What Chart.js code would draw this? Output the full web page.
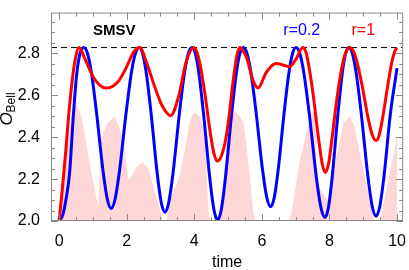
<!DOCTYPE html>
<html>
<head>
<meta charset="utf-8">
<script src="https://cdn.jsdelivr.net/npm/chart.js@4.4.1/dist/chart.umd.min.js"></script>
<style>
  html, body { margin: 0; padding: 0; background: #fff; }
</style>
</head>
<body>
<canvas id="chart" width="409" height="270"></canvas>
<script>
// axis ranges and ticks
var xMin = -0.24, xMax = 10.18;
var yMin = 2.0, yMax = 2.995;
var xMajor = [0, 2, 4, 6, 8, 10];
var yMajor = [2.0, 2.2, 2.4, 2.6, 2.8];
var bound = 2.828; // 2*sqrt(2)

// r = 0.2 (blue)
var blueT = [0, 0.11, 0.2, 0.31, 0.42, 0.52, 0.62, 0.73,
  0.835, 0.949, 1.103, 1.297, 1.427, 1.54,
  1.656, 1.789, 1.988, 2.146, 2.262, 2.37,
  2.469, 2.575, 2.72, 2.902, 3.024, 3.13,
  3.242, 3.37, 3.562, 3.714, 3.826, 3.93,
  4.029, 4.135, 4.28, 4.462, 4.584, 4.69,
  4.796, 4.918, 5.10, 5.245, 5.351, 5.45,
  5.555, 5.669, 5.823, 6.017, 6.147, 6.26,
  6.365, 6.485, 6.665, 6.808, 6.913, 7.01,
  7.122, 7.242, 7.406, 7.612, 7.75, 7.87,
  7.968, 8.08, 8.248, 8.381, 8.479, 8.57,
  8.675, 8.789, 8.943, 9.137, 9.267, 9.38,
  9.489, 9.614, 9.801, 10];
var blueV = [2.0, 2.03, 2.1, 2.23, 2.5, 2.70, 2.80, 2.828,
  2.802, 2.715, 2.524, 2.242, 2.104, 2.06,
  2.104, 2.242, 2.524, 2.715, 2.802, 2.828,
  2.801, 2.712, 2.517, 2.228, 2.087, 2.042,
  2.087, 2.228, 2.517, 2.712, 2.801, 2.828,
  2.80, 2.707, 2.502, 2.20, 2.052, 2.005,
  2.052, 2.20, 2.502, 2.707, 2.80, 2.828,
  2.802, 2.716, 2.527, 2.248, 2.111, 2.068,
  2.111, 2.248, 2.527, 2.716, 2.802, 2.828,
  2.80, 2.708, 2.507, 2.209, 2.063, 2.017,
  2.063, 2.209, 2.507, 2.708, 2.80, 2.828,
  2.801, 2.709, 2.509, 2.214, 2.069, 2.023,
  2.069, 2.214, 2.509, 2.73];

// r = 1 (red)
var redT = [0, 0.1, 0.2, 0.28, 0.41, 0.5, 0.59,
  0.75, 1.0, 1.19, 1.39, 1.6, 1.78, 1.98, 2.22, 2.4,
  2.57, 2.86, 3.05, 3.3, 3.54, 3.74, 3.98,
  4.07, 4.17, 4.31, 4.48, 4.59, 4.69, 4.8, 4.93, 5.03, 5.15, 5.26, 5.35,
  5.45, 5.55, 5.74, 5.89, 6.13, 6.43, 6.62, 6.82, 7.0, 7.21,
  7.30, 7.39, 7.52, 7.68, 7.79, 7.88, 7.98, 8.08, 8.2, 8.33, 8.45, 8.6,
  8.70, 8.81, 8.96, 9.146, 9.27, 9.38, 9.47, 9.57, 9.73, 9.85, 9.94, 10];
var redV = [2.0, 2.16, 2.34, 2.5, 2.70, 2.79, 2.828,
  2.78, 2.69, 2.65, 2.635, 2.645, 2.673, 2.73, 2.81, 2.828,
  2.764, 2.627, 2.55, 2.503, 2.597, 2.748, 2.828,
  2.81, 2.748, 2.613, 2.414, 2.317, 2.286, 2.31, 2.39, 2.5, 2.67, 2.79, 2.828,
  2.81, 2.78, 2.67, 2.635, 2.71, 2.752, 2.745, 2.737, 2.77, 2.828,
  2.808, 2.74, 2.60, 2.39, 2.27, 2.232, 2.28, 2.40, 2.56, 2.70, 2.79, 2.828,
  2.813, 2.762, 2.652, 2.489, 2.409, 2.384, 2.409, 2.489, 2.652, 2.762, 2.813, 2.826];

// shaded region (pink)
var pinkT = [0.05, 0.2, 0.35, 0.5, 0.66, 0.9, 1.1, 1.16, 1.24, 1.4, 1.63, 1.8, 1.93,
  2.05, 2.1, 2.3, 2.47, 2.65, 2.8, 2.96, 3.07, 3.18, 3.25, 3.54, 3.74, 3.84, 3.98,
  4.15, 4.28, 4.33, 4.37, 4.42, 4.46, 4.78, 4.86, 4.96, 5.05, 5.2, 5.35, 5.45, 5.55,
  5.65, 5.74, 5.8, 6.8, 6.87, 6.97, 7.11, 7.36, 7.5, 7.58, 7.63, 7.95, 8.03, 8.2,
  8.42, 8.6, 8.75, 8.86, 9.06, 9.26, 9.33, 9.5, 9.75, 9.94, 10, 10];
var pinkV = [2.0, 2.3, 2.5, 2.56, 2.5, 2.28, 2.11, 2.07, 2.385, 2.46, 2.5, 2.44, 2.35,
  2.2, 2.2, 2.26, 2.28, 2.25, 2.16, 2.07, 2.0, 2.0, 2.09, 2.2, 2.35, 2.46, 2.52,
  2.5, 2.44, 2.35, 2.2, 2.05, 2.0, 2.0, 2.2, 2.38, 2.5, 2.52, 2.5, 2.47, 2.35,
  2.2, 2.05, 2.0, 2.0, 2.035, 2.13, 2.28, 2.445, 2.53, 2.5, 2.17, 2.1, 2.14, 2.3,
  2.47, 2.5, 2.45, 2.35, 2.2, 2.05, 2.0, 2.0, 2.2, 2.35, 2.41, 2.0];

var fontFamily = '"Liberation Sans", Arial, sans-serif';

function toPoints(ts, vs) {
  return ts.map(function (t, i) { return { x: t, y: vs[i] }; });
}

// frame with inward ticks on all four sides + text labels
var framePlugin = {
  id: "frame",
  afterDatasetsDraw: function (chart) {
    var ctx = chart.ctx;
    var a = chart.chartArea;
    var xs = chart.scales.x, ys = chart.scales.y;
    ctx.save();
    ctx.strokeStyle = "#888";
    ctx.lineWidth = 1;
    ctx.strokeRect(a.left + 0.5, a.top + 0.5, a.right - a.left - 1, a.bottom - a.top - 1);
    ctx.beginPath();
    for (var i = 0; i <= 20; i++) {
      var v = i * 0.5;
      var px = Math.round(xs.getPixelForValue(v)) + 0.5;
      var len = xMajor.indexOf(v) >= 0 ? 7 : 4;
      ctx.moveTo(px, a.bottom); ctx.lineTo(px, a.bottom - len);
      ctx.moveTo(px, a.top); ctx.lineTo(px, a.top + len);
    }
    for (var j = 0; j <= 19; j++) {
      var yv = 2 + j * 0.05;
      var py = Math.round(ys.getPixelForValue(yv)) + 0.5;
      var ylen = j % 4 === 0 ? 7 : 4;
      ctx.moveTo(a.left, py); ctx.lineTo(a.left + ylen, py);
      ctx.moveTo(a.right, py); ctx.lineTo(a.right - ylen, py);
    }
    ctx.stroke();

    // labels inside the plot
    ctx.textAlign = "center";
    ctx.textBaseline = "middle";
    ctx.fillStyle = "#000";
    ctx.font = "bold 15px " + fontFamily;
    ctx.fillText("SMSV", xs.getPixelForValue(1.63), ys.getPixelForValue(2.907));
    ctx.font = "16px " + fontFamily;
    ctx.fillStyle = "#0000ff";
    ctx.fillText("r=0.2", xs.getPixelForValue(7.18), ys.getPixelForValue(2.907));
    ctx.fillStyle = "#ff0000";
    ctx.fillText("r=1", xs.getPixelForValue(9.0), ys.getPixelForValue(2.907));

    // y axis title with subscript
    ctx.fillStyle = "#000";
    ctx.translate(12, 109);
    ctx.rotate(-Math.PI / 2);
    ctx.textAlign = "left";
    ctx.textBaseline = "alphabetic";
    ctx.font = "italic 17px " + fontFamily;
    var wO = ctx.measureText("O").width;
    ctx.font = "12px " + fontFamily;
    var wB = ctx.measureText("Bell").width;
    var x0 = -(wO + wB) / 2;
    ctx.font = "italic 17px " + fontFamily;
    ctx.fillText("O", x0, 0);
    ctx.font = "12px " + fontFamily;
    ctx.fillText("Bell", x0 + wO, 3);
    ctx.restore();
  }
};

var ctx = document.getElementById("chart").getContext("2d");
window.myChart = new Chart(ctx, {
  type: "line",
  data: {
    datasets: [
      {
        label: "region",
        data: toPoints(pinkT, pinkV),
        fill: "start",
        backgroundColor: "rgb(255, 214, 214)",
        borderWidth: 0,
        pointRadius: 0,
        tension: 0,
        order: 4
      },
      {
        label: "bound",
        data: [{ x: xMin, y: bound }, { x: xMax, y: bound }],
        borderColor: "#000",
        borderWidth: 1,
        borderDash: [6, 4],
        pointRadius: 0,
        fill: false,
        order: 3
      },
      {
        label: "r=0.2",
        data: toPoints(blueT, blueV),
        borderColor: "#0000ff",
        borderWidth: 3,
        pointRadius: 0,
        fill: false,
        cubicInterpolationMode: "monotone",
        order: 2
      },
      {
        label: "r=1",
        data: toPoints(redT, redV),
        borderColor: "#ff0000",
        borderWidth: 3,
        pointRadius: 0,
        fill: false,
        cubicInterpolationMode: "monotone",
        order: 1
      }
    ]
  },
  options: {
    responsive: false,
    animation: false,
    layout: { padding: { top: 2, right: 3, left: 0, bottom: 0 } },
    plugins: { legend: { display: false }, tooltip: { enabled: false } },
    scales: {
      x: {
        type: "linear",
        min: xMin,
        max: xMax,
        grid: { display: false },
        border: { display: false },
        afterBuildTicks: function (s) {
          s.ticks = xMajor.map(function (v) { return { value: v }; });
        },
        ticks: {
          color: "#000",
          font: { family: fontFamily, size: 16 },
          padding: 3,
          maxRotation: 0,
          autoSkip: false,
          callback: function (v) { return String(v); }
        },
        title: {
          display: true,
          text: "time",
          color: "#000",
          font: { family: fontFamily, size: 16 },
          padding: { top: 0, bottom: -2 }
        },
        afterFit: function (s) { s.height = 49; }
      },
      y: {
        type: "linear",
        min: yMin,
        max: yMax,
        grid: { display: false },
        border: { display: false },
        afterBuildTicks: function (s) {
          s.ticks = yMajor.map(function (v) { return { value: v }; });
        },
        ticks: {
          color: "#000",
          font: { family: fontFamily, size: 16 },
          padding: 3,
          autoSkip: false,
          callback: function (v) { return v.toFixed(1); }
        },
        afterFit: function (s) { s.width = 51; }
      }
    }
  },
  plugins: [framePlugin]
});
</script>
</body>
</html>
